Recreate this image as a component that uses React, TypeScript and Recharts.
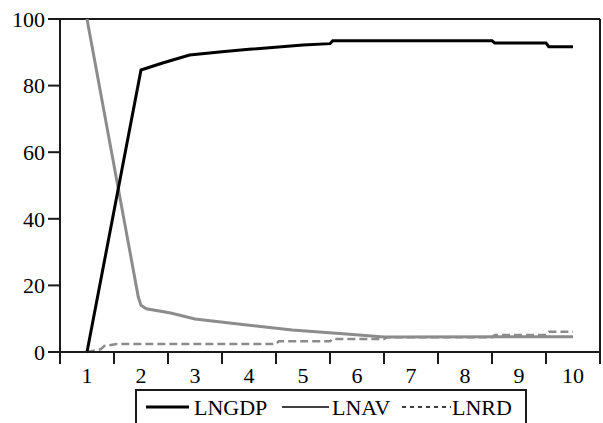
import React from 'react';
import { LineChart, Line, XAxis, YAxis, ReferenceLine, Legend } from 'recharts';

// period positions and values
const gdpX = [1, 2, 2.4, 2.9, 3.5, 4, 5, 5.5, 5.55, 8.5, 8.55, 9.5, 9.55, 10];
const gdpY = [0, 84.7, 86.8, 89.2, 90.2, 90.9, 92.2, 92.6, 93.5, 93.5, 92.8, 92.8, 91.7, 91.7];

const avX = [1, 1.95, 2, 2.1, 2.55, 3, 3.8, 4.3, 4.8, 5.3, 5.8, 6.5, 10];
const avY = [100, 16.5, 14, 13, 11.7, 9.9, 8.4, 7.5, 6.6, 6.0, 5.4, 4.5, 4.6];

const rdX = [1, 1.25, 1.32, 1.55, 4.5, 4.55, 5.5, 5.55, 6.5, 6.55, 8.5, 8.55, 9.5, 9.55, 10];
const rdY = [0, 0.8, 1.8, 2.4, 2.4, 3.2, 3.2, 3.9, 3.9, 4.4, 4.4, 5.1, 5.1, 6.1, 6.1];

const periods = [1, 2, 3, 4, 5, 6, 7, 8, 9, 10];
const yTicks = [0, 20, 40, 60, 80, 100];

const toPoints = (xs: number[], ys: number[]) => xs.map((x, i) => ({ x, y: ys[i] }));
const gdpData = toPoints(gdpX, gdpY);
const avData = toPoints(avX, avY);
const rdData = toPoints(rdX, rdY);

// labels on whole periods, tick marks on the half-way boundaries
const xTicks = [0.5, ...periods.flatMap(p => [p, p + 0.5])];

const FONT = '"Liberation Serif", "Times New Roman", serif';
const AXIS = '#1a1a1a';

const XTick = (props: any) => {
  const { x, y, payload } = props;
  if (payload.value % 1 !== 0) {
    return <line x1={x} x2={x} y1={y} y2={y + 12} stroke={AXIS} strokeWidth={2} />;
  }
  return (
    <text x={x} y={y + 31} textAnchor="middle" fontFamily={FONT} fontSize={22} fill="#000">
      {payload.value}
    </text>
  );
};

const legendItems = [
  { name: 'LNGDP', x1: 11, x2: 54, tx: 59, width: 3, dash: undefined },
  { name: 'LNAV', x1: 147, x2: 194, tx: 197, width: 1.5, dash: undefined },
  { name: 'LNRD', x1: 267, x2: 316, tx: 317, width: 1.5, dash: '4 4' },
];

const LegendBox = () => (
  <svg width={392} height={36} style={{ display: 'block' }}>
    <rect x={1} y={1} width={390} height={40} fill="#fff" stroke={AXIS} strokeWidth={2} />
    {legendItems.map(it => (
      <g key={it.name}>
        <line x1={it.x1} x2={it.x2} y1={18} y2={18} stroke="#000" strokeWidth={it.width} strokeDasharray={it.dash} />
        <text x={it.tx} y={26} fontFamily={FONT} fontSize={22} fill="#000">{it.name}</text>
      </g>
    ))}
  </svg>
);

export default function App() {
  return (
    <div style={{ position: 'absolute', left: 0, top: 0, background: '#fff' }}>
      <LineChart width={603} height={423} margin={{ top: 19, right: 3, left: 0, bottom: 0 }}>
        <XAxis
          dataKey="x"
          type="number"
          domain={[0.5, 10.5]}
          ticks={xTicks}
          interval={0}
          allowDataOverflow
          height={71}
          tickLine={false}
          tickSize={0}
          tickMargin={0}
          tick={<XTick />}
          axisLine={{ stroke: AXIS, strokeWidth: 2 }}
        />
        <YAxis
          type="number"
          domain={[0, 100]}
          ticks={yTicks}
          width={60}
          tickSize={12}
          tickMargin={3}
          axisLine={{ stroke: AXIS, strokeWidth: 2 }}
          tickLine={{ stroke: AXIS, strokeWidth: 2 }}
          tick={{ fontFamily: FONT, fontSize: 22, fill: '#000' }}
        />
        <ReferenceLine y={100} stroke={AXIS} strokeWidth={2} />
        <ReferenceLine x={10.5} stroke={AXIS} strokeWidth={2} />
        <Line data={avData} dataKey="y" name="LNAV" stroke="#8c8c8c" strokeWidth={3} dot={false} isAnimationActive={false} />
        <Line data={rdData} dataKey="y" name="LNRD" stroke="#8c8c8c" strokeWidth={2.5} strokeDasharray="8 4" dot={false} isAnimationActive={false} />
        <Line data={gdpData} dataKey="y" name="LNGDP" stroke="#000" strokeWidth={3} dot={false} isAnimationActive={false} />
        <Legend
          layout="horizontal"
          align="center"
          verticalAlign="middle"
          content={<LegendBox />}
          wrapperStyle={{ left: 135, top: 389, width: 392, height: 36 }}
        />
      </LineChart>
    </div>
  );
}
